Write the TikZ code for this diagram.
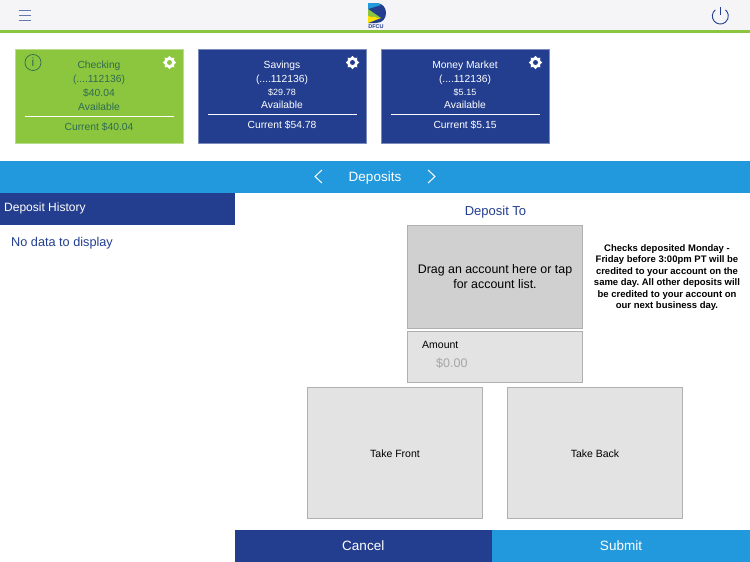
\documentclass[tikz,border=0pt]{standalone}
\usepackage{fontspec}
\setmainfont{Liberation Sans}
\usepackage{tikz}
\usetikzlibrary{positioning, calc, shapes.geometric}

\definecolor{dfcublue}{HTML}{233E8F}
\definecolor{dfcugreen}{HTML}{8CC63F}
\definecolor{dfcusky}{HTML}{2399DD}
\definecolor{topbar}{HTML}{F5F5F8}
\definecolor{boxdark}{HTML}{D0D0D0}
\definecolor{boxlight}{HTML}{E3E3E3}
\definecolor{boxedge}{HTML}{B0B0B0}
\definecolor{greentext}{HTML}{2F6B52}
\definecolor{hint}{HTML}{A6A6A6}

\tikzset{
    band/.style={inner sep=0pt, outer sep=0pt, anchor=north west},
    card/.style={band, minimum width=168.5pt, minimum height=94.5pt, line width=0.4pt},
    cardline/.style={inner sep=0pt, font=\fontsize{10.3}{12}\selectfont},
    panel/.style={band, draw=boxedge, line width=0.8pt},
    camera/.style={panel, fill=boxlight, minimum width=175pt, minimum height=131pt, text height=10pt, font=\fontsize{10.5}{12}\selectfont},
    gear/.style={star, star points=8, star point ratio=1.35, inner sep=0pt, minimum size=13.5pt, fill=white},
}

\begin{document}
\frenchspacing
\begin{tikzpicture}[x=1pt, y=-1pt]
    \path[use as bounding box] (0,0) rectangle (750,562);
    \fill[white] (0,0) rectangle (750,562);

    % top bar
    \node[band, fill=topbar, minimum width=750pt, minimum height=30pt] (bar) at (0,0) {};
    \node[band, fill=dfcugreen, minimum width=750pt, minimum height=2.5pt] (barline) at (0,30) {};
    \foreach \y in {10,15,20}
        \draw[dfcublue!70, line width=0.7pt] (18.5,\y) -- (30.5,\y);
    \draw[dfcublue, line width=0.9pt] (720.3,7) -- (720.3,14.5);
    \draw[dfcublue, line width=0.9pt] (715.2,9.9) arc[start angle=130, delta angle=280, radius=8pt];

    % logo
    \fill[dfcublue] (368,3) -- (376,3) .. controls (383,3) and (386,8) .. (386,13) .. controls (386,18) and (383,23) .. (376,23) -- (368,23) -- cycle;
    \fill[dfcusky] (368,3) -- (376,3) .. controls (378,3) and (380,4) .. (381,5) -- (368,9) -- cycle;
    \fill[dfcugreen] (368,9) -- (381,18) -- (368,16) -- cycle;
    \fill[yellow!85!orange] (368,16) -- (381,18) -- (368,23) -- cycle;
    \node[inner sep=0pt, font=\fontsize{5.5}{6}\bfseries\selectfont, text=dfcublue] (logotext) at (376,26.5) {DFCU};

    % account cards
    \node[card, fill=dfcugreen, draw=dfcugreen!60!white] (checking) at (15,49) {};
    \node[card, fill=dfcublue, draw=dfcublue!60!white] (savings) at (198,49) {};
    \node[card, fill=dfcublue, draw=dfcublue!60!white] (market) at (381,49) {};

    \node[cardline, text=greentext] (c1) at (99,65.5) {Checking};
    \node[cardline, text=greentext] (c2) at (99,79.5) {(....112136)};
    \node[cardline, text=greentext] (c3) at (99,93.5) {\$40.04};
    \node[cardline, text=greentext] (c4) at (99,107) {Available};
    \node[cardline, text=greentext] (c5) at (99,127) {Current \$40.04};
    \draw[white, line width=0.7pt] (24.5,116.5) -- (174,116.5);
    \draw[greentext, line width=0.7pt] (33,62.5) circle (8pt);
    \node[inner sep=0pt, text=greentext, font=\fontsize{12}{14}\selectfont] (cinfo) at (33,62.5) {i};
    \node[gear] (cgear) at (169.5,62.5) {};
    \fill[dfcugreen] (cgear) circle (2.5pt);

    \node[cardline, text=white] (s1) at (282,65.5) {Savings};
    \node[cardline, text=white] (s2) at (282,79.5) {(....112136)};
    \node[cardline, text=white, font=\fontsize{9}{12}\selectfont] (s3) at (282,92.5) {\$29.78};
    \node[cardline, text=white] (s4) at (282,105) {Available};
    \node[cardline, text=white] (s5) at (282,125) {Current \$54.78};
    \draw[white, line width=0.7pt] (207.5,114.5) -- (357,114.5);
    \node[gear] (sgear) at (352.5,62.5) {};
    \fill[dfcublue] (sgear) circle (2.5pt);

    \node[cardline, text=white] (m1) at (465,65.5) {Money Market};
    \node[cardline, text=white] (m2) at (465,79.5) {(....112136)};
    \node[cardline, text=white, font=\fontsize{9}{12}\selectfont] (m3) at (465,92.5) {\$5.15};
    \node[cardline, text=white] (m4) at (465,105) {Available};
    \node[cardline, text=white] (m5) at (465,125) {Current \$5.15};
    \draw[white, line width=0.7pt] (390.5,114.5) -- (540,114.5);
    \node[gear] (mgear) at (535.5,62.5) {};
    \fill[dfcublue] (mgear) circle (2.5pt);

    % deposits band
    \node[band, fill=dfcusky, minimum width=750pt, minimum height=32pt] (deposits) at (0,161) {};
    \node[text=white, font=\fontsize{13.5}{16}\selectfont] (title) at (375,178) {Deposits};
    \draw[white, line width=1pt] (322,170) -- (315,176.5) -- (322,183);
    \draw[white, line width=1pt] (428,170) -- (435,176.5) -- (428,183);

    % history column
    \node[band, fill=dfcublue, minimum width=234.5pt, minimum height=32pt] (history) at (0,193) {};
    \node[anchor=west, inner sep=0pt, text=white, font=\fontsize{12}{14}\selectfont] (histlabel) at (4,208) {Deposit History};
    \node[anchor=west, inner sep=0pt, text=dfcublue, font=\fontsize{12.7}{14}\selectfont] (nodata) at (11,243) {No data to display};

    % deposit form
    \node[text=dfcublue, font=\fontsize{13}{15}\selectfont] (depositto) at (495.5,212) {Deposit To};
    \node[panel, fill=boxdark, minimum width=175pt, minimum height=103pt, align=center, font=\fontsize{12.4}{14.5}\selectfont] (account) at (407.5,225) {Drag an account here or tap\\for account list.};
    \node[panel, fill=boxlight, minimum width=175pt, minimum height=51pt] (amount) at (407.5,331.5) {};
    \node[anchor=west, inner sep=0pt, font=\fontsize{10.5}{12}\selectfont] (amountlabel) at (422,344.5) {Amount};
    \node[anchor=west, inner sep=0pt, text=hint, font=\fontsize{12.5}{14}\selectfont] (amountvalue) at (436,363) {\$0.00};
    \node[align=center, inner sep=0pt, font=\fontsize{9.5}{11.4}\bfseries\selectfont] (notice) at (667,277.5) {Checks deposited Monday -\\Friday before 3:00pm PT will be\\credited to your account on the\\same day. All other deposits will\\be credited to your account on\\our next business day.};
    \node[camera] (front) at (307.5,387.5) {Take Front};
    \node[camera] (back) at (507.5,387.5) {Take Back};

    % bottom buttons
    \node[band, fill=dfcublue, minimum width=257.5pt, minimum height=32.5pt, text=white, font=\fontsize{13.5}{15}\selectfont] (cancel) at (234.5,529.5) {Cancel};
    \node[band, fill=dfcusky, minimum width=258pt, minimum height=32.5pt, text=white, font=\fontsize{13.5}{15}\selectfont] (submit) at (492,529.5) {Submit};
\end{tikzpicture}
\end{document}
